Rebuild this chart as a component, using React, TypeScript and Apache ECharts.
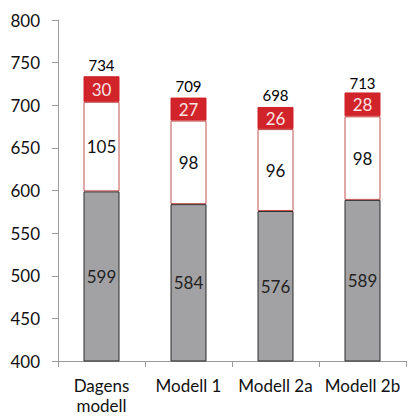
import React, { useEffect, useRef } from "react";
import * as echarts from "echarts";

const categories = ["Dagens\nmodell", "Modell 1", "Modell 2a", "Modell 2b"];
const baseValues = [599, 584, 576, 589];
const middleValues = [105, 98, 96, 98];
const topValues = [30, 27, 26, 28];
const totals = [734, 709, 698, 713];

const FONT = "Lato";

export default function App() {
  const ref = useRef<HTMLDivElement>(null);
  useEffect(() => {
    document.body.style.margin = "0";
    const chart = echarts.init(ref.current!, null, { renderer: "svg" });
    chart.setOption({
      animation: false,
      backgroundColor: "#ffffff",
      textStyle: { fontFamily: FONT },
      grid: { left: 58, right: 2, top: 20, bottom: 57 },
      xAxis: {
        type: "category",
        data: categories,
        axisLine: { lineStyle: { color: "#9a9a9a", width: 1 } },
        axisTick: { show: true, length: 6, lineStyle: { color: "#9a9a9a" } },
        axisLabel: { color: "#111", fontSize: 17, fontFamily: FONT, margin: 14, lineHeight: 20, interval: 0 },
      },
      yAxis: {
        type: "value",
        min: 400,
        max: 800,
        interval: 50,
        splitLine: { show: false },
        axisLine: { show: true, lineStyle: { color: "#9a9a9a", width: 1 } },
        axisTick: { show: true, length: 6, lineStyle: { color: "#9a9a9a" } },
        axisLabel: { color: "#111", fontSize: 17, fontFamily: FONT, margin: 18 },
      },
      series: [
        {
          type: "bar",
          stack: "s",
          barWidth: 36,
          data: baseValues,
          itemStyle: { color: "#a2a2a5", borderColor: "#2a2a2a", borderWidth: 1 },
          label: { show: true, position: "inside", color: "#222", fontSize: 17, fontFamily: FONT },
        },
        {
          type: "bar",
          stack: "s",
          data: middleValues,
          itemStyle: { color: "#ffffff", borderColor: "#c0504d", borderWidth: 1 },
          label: { show: true, position: "inside", color: "#111", fontSize: 17, fontFamily: FONT },
        },
        {
          type: "bar",
          stack: "s",
          data: topValues,
          itemStyle: { color: "#d1232a", borderColor: "#d1232a", borderWidth: 1 },
          label: { show: true, position: "inside", color: "#fbe3e3", fontSize: 17, fontFamily: FONT },
        },
        {
          type: "scatter",
          data: totals,
          symbolSize: 0,
          silent: true,
          itemStyle: { opacity: 1 },
          label: {
            show: true,
            position: "top",
            distance: 4,
            color: "#000000",
            fontSize: 15,
            fontFamily: FONT,
          },
        },
      ],
    });
    return () => chart.dispose();
  }, []);
  return <div ref={ref} style={{ width: 408, height: 418 }} />;
}
